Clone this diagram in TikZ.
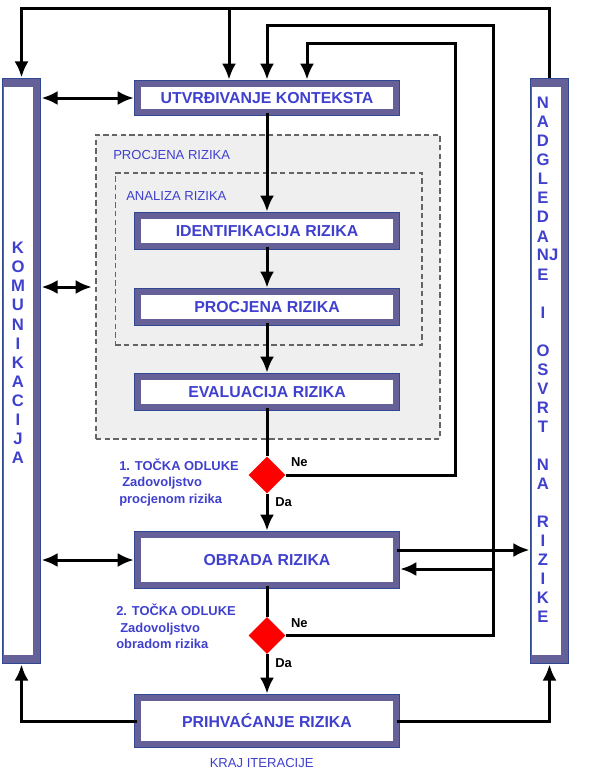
\documentclass[tikz,border=0pt]{standalone}
\usepackage{fontspec}
\setmainfont{Liberation Sans}
\usetikzlibrary{arrows.meta,positioning,shapes.geometric,calc}

\definecolor{bandcol}{RGB}{101,97,152}
\definecolor{edgecol}{RGB}{48,72,146}
\definecolor{txtcol}{RGB}{64,64,206}
\definecolor{zonecol}{RGB}{239,239,239}
\definecolor{dashcol}{RGB}{100,100,100}

\tikzset{
    >={Latex[length=12pt,width=10.5pt]},
    stagebox/.style={draw=edgecol, line width=0.5pt, double=bandcol, double distance=4.4pt,
        fill=white, minimum width=194pt, inner sep=0pt, text=txtcol,
        font=\bfseries\fontsize{11.9}{14}\selectfont},
    sidebar/.style={draw=edgecol, line width=0.8pt, fill=white, minimum width=28.5pt,
        minimum height=438.7pt, inner sep=0pt,
        path picture={
            \fill[bandcol] (path picture bounding box.north west) rectangle ([yshift=-6pt]path picture bounding box.north east);
            \fill[bandcol] ([yshift=6.5pt]path picture bounding box.south west) rectangle (path picture bounding box.south east);
            \fill[bandcol] ([xshift=-6pt]path picture bounding box.north east) rectangle (path picture bounding box.south east);
            \fill[bandcol] (path picture bounding box.north west) rectangle ([xshift=1.2pt]path picture bounding box.south west);
        }},
    barletter/.style={text=txtcol, inner sep=0pt, font=\bfseries\fontsize{12.5}{14}\selectfont},
    zone/.style={draw=dashcol, dash pattern=on 4pt off 2.5pt, line width=1pt, fill=zonecol, inner sep=0pt},
    zonelabel/.style={text=txtcol, inner sep=0pt, anchor=west, font=\fontsize{9.8}{12}\selectfont},
    endlabel/.style={text=txtcol, inner sep=0pt, font=\fontsize{9.8}{12}\selectfont},
    decision/.style={diamond, fill=red, minimum size=27.75pt, inner sep=0pt},
    declabel/.style={text=txtcol, inner sep=0pt, anchor=west, align=left,
        font=\bfseries\fontsize{9.7}{12.4}\selectfont},
    answer/.style={inner sep=0pt, font=\bfseries\fontsize{9.7}{12}\selectfont},
    flow/.style={line width=2.25pt, ->, shorten >=0.4pt},
    tobox/.style={shorten >=2.7pt},
    dflow/.style={line width=2.25pt, <->, shorten >=2.7pt, shorten <=0.4pt},
    link/.style={line width=2.25pt}
}

\begin{document}
\begin{tikzpicture}[x=0.75pt, y=-0.75pt]
    \useasboundingbox (0,0) rectangle (602,778);

    % Risk assessment zones
    \node[zone, minimum width=258pt, minimum height=228pt] (assess) at (268, 287) {};
    \node[zone, minimum width=230pt, minimum height=129pt] (analysis) at (268.5, 259) {};
    \node[zonelabel] (assesslbl) at (113, 155) {PROCJENA RIZIKA};
    \node[zonelabel] (analysislbl) at (126, 196) {ANALIZA RIZIKA};

    % Process steps
    \node[stagebox, minimum height=21.6pt] (context) at (267, 98) {UTVRĐIVANJE KONTEKSTA};
    \node[stagebox, minimum height=23.1pt] (identify) at (267, 231) {IDENTIFIKACIJA RIZIKA};
    \node[stagebox, minimum height=23.1pt] (estimate) at (267, 307) {PROCJENA RIZIKA};
    \node[stagebox, minimum height=23.1pt] (evaluate) at (267, 392) {EVALUACIJA RIZIKA};
    \node[stagebox, minimum height=38.1pt] (treat) at (267, 560) {OBRADA RIZIKA};
    \node[stagebox, minimum height=35.1pt] (accept) at (267, 721) {PRIHVAĆANJE RIZIKA};
    \node[endlabel, below=10pt of accept, xshift=-4pt] (endlbl) {KRAJ ITERACIJE};

    % Side bars
    \node[sidebar] (comm) at (21.5, 371) {};
    \node[sidebar] (monitor) at (549.5, 371) {};
    \foreach \ch [count=\i from 0] in {K,O,M,U,N,I,K,A,C,I,J,A}
        \node[barletter] (comm-\i) at (18, 248+19.1*\i) {\ch};
    \foreach \ch [count=\i from 0] in {N,A,D,G,L,E,D,A,N\rlap{J},E,{},I,{},O,S,V,R,T,{},N,A,{},R,I,Z,I,K,E}
        \node[barletter] (mon-\i) at (543, 103+19.04*\i) {\ch};

    % Decision points
    \node[decision] (dec1) at (267, 475) {};
    \node[decision] (dec2) at (267, 635.5) {};
    \node[declabel] (dec1lbl) at (119, 482.5) {1. TOČKA ODLUKE\\\hspace*{2.25pt}Zadovoljstvo\\procjenom rizika};
    \node[declabel] (dec2lbl) at (116, 626.5) {2. TOČKA ODLUKE\\\hspace*{3pt}Zadovoljstvo\\obradom rizika};
    \node[answer, anchor=south west] (ne1) at ($(dec1.east)+(5,-8)$) {Ne};
    \node[answer, anchor=north west] (da1) at ($(dec1.south)+(8,4)$) {Da};
    \node[answer, anchor=south west] (ne2) at ($(dec2.east)+(5,-8)$) {Ne};
    \node[answer, anchor=north west] (da2) at ($(dec2.south)+(8,4)$) {Da};

    % Rails for feedback loops
    \coordinate (toprail) at (229, 8);
    \coordinate (railB) at (493, 25);
    \coordinate (railC) at (455, 43);

    % Main flow
    \draw[flow, tobox] (context) -- (identify);
    \draw[flow, tobox] (identify) -- (estimate);
    \draw[flow, tobox] (estimate) -- (evaluate);
    \draw[link] (evaluate) -- (dec1);
    \draw[flow, tobox] (dec1) -- (treat);
    \draw[link] (treat) -- (dec2);
    \draw[flow, tobox] (dec2) -- (accept);

    % Feedback from decisions
    \draw[flow, tobox] (dec1.east) -| (railC) -| ($(context.north)+(40,0)$);
    \draw[flow, tobox] (dec2.east) -| (railB) -| (context.north);
    \draw[flow, tobox] (railB |- 0,569) -- (treat.east |- 0,569);

    % Monitoring loop over the top
    \draw[flow] (monitor.north) |- (toprail -| comm.north) -- (comm.north);
    \draw[flow, tobox] (toprail) -- (toprail |- context.north);

    % Communication links
    \draw[dflow] (comm.east |- context.west) -- (context.west);
    \draw[dflow] (comm.east |- assess.west) -- (assess.west);
    \draw[dflow] (comm.east |- treat.west) -- (treat.west);
    \draw[flow] (treat.east |- 0,550) -- (monitor.west |- 0,550);

    % Acceptance to the side bars
    \draw[flow] (accept.west) -| (comm.south);
    \draw[flow] (accept.east) -| (monitor.south);
\end{tikzpicture}
\end{document}
